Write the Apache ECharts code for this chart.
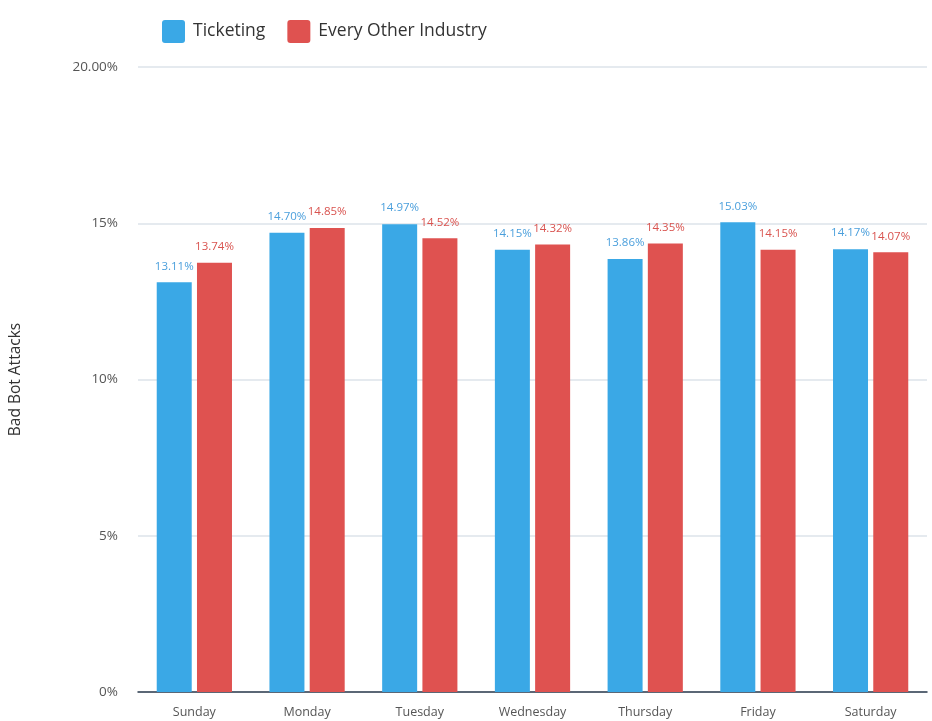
<!DOCTYPE html>
<html>
<head>
<meta charset="utf-8">
<script src="https://cdn.jsdelivr.net/npm/echarts@6/dist/echarts.min.js"></script>
<style>
  html, body { margin: 0; padding: 0; background: #ffffff; }
  #chart { width: 932px; height: 721px; }
</style>
</head>
<body>
<div id="chart"></div>
<script>
// Share of bad bot attacks by day of week
const days = ['Sunday', 'Monday', 'Tuesday', 'Wednesday', 'Thursday', 'Friday', 'Saturday'];
const ticketing = [13.11, 14.70, 14.97, 14.15, 13.86, 15.03, 14.17];
const otherIndustries = [13.74, 14.85, 14.52, 14.32, 14.35, 14.15, 14.07];
const seriesNames = ['Ticketing', 'Every Other Industry'];
const yTicks = [0, 5, 10, 15, 20];

const FONT = '"Open Sans", Lato, sans-serif';
const BLUE = '#3aa8e6';
const RED = '#df5250';
// square legend swatch with slightly rounded corners
const SWATCH = 'path://M3,0H20A3,3 0 0 1 23,3V20A3,3 0 0 1 20,23H3A3,3 0 0 1 0,20V3A3,3 0 0 1 3,0Z';

const chart = echarts.init(document.getElementById('chart'));

function barSeries(name, data, color, labelColor) {
  return {
    name: name,
    type: 'bar',
    data: data,
    barWidth: 35,
    barGap: '15%',
    itemStyle: { color: color },
    label: {
      show: true,
      position: 'top',
      distance: 10,
      color: labelColor,
      fontFamily: FONT,
      fontSize: 11.5,
      formatter: p => p.value.toFixed(2) + '%'
    }
  };
}

chart.setOption({
  animation: false,
  textStyle: { fontFamily: FONT },
  legend: {
    left: 157,
    top: 15,
    itemWidth: 23,
    itemHeight: 23,
    itemGap: 22,
    icon: SWATCH,
    textStyle: { fontSize: 17.5, color: '#333', fontFamily: FONT, padding: [0, 0, 0, 3] },
    data: seriesNames
  },
  grid: { left: 138, right: 5, top: 67, bottom: 29 },
  xAxis: {
    type: 'category',
    data: days,
    axisTick: { show: false },
    axisLine: { lineStyle: { color: '#2e3d4f', width: 1.5 } },
    axisLabel: { color: '#555', fontSize: 12.5, margin: 14, fontFamily: FONT }
  },
  yAxis: {
    type: 'value',
    min: yTicks[0],
    max: yTicks[yTicks.length - 1],
    interval: 5,
    name: 'Bad Bot Attacks',
    nameLocation: 'middle',
    nameGap: 114,
    nameTextStyle: { fontSize: 15.5, color: '#333', fontFamily: FONT },
    axisLabel: {
      color: '#555',
      fontSize: 13.5,
      margin: 20,
      fontFamily: FONT,
      formatter: v => (v === 20 ? '20.00%' : v + '%')
    },
    splitLine: { lineStyle: { color: '#dde3ea', width: 1.5 } }
  },
  series: [
    barSeries(seriesNames[0], ticketing, BLUE, '#4a9fdc'),
    barSeries(seriesNames[1], otherIndustries, RED, '#d9534f')
  ]
});
</script>
</body>
</html>
